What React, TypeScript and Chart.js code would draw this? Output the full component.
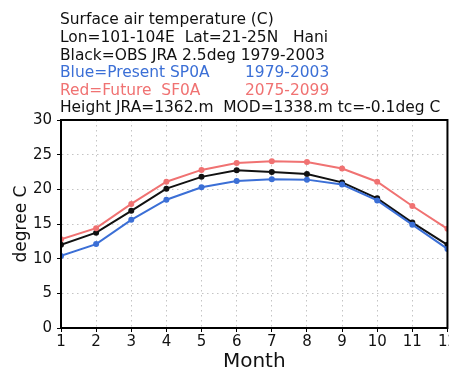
import React, { useEffect, useRef } from "react";
import { Chart, registerables } from "chart.js";

Chart.register(...registerables);

const months = [1, 2, 3, 4, 5, 6, 7, 8, 9, 10, 11, 12];
const obsJRA = [12.0, 13.75, 16.9, 20.1, 21.8, 22.75, 22.5, 22.2, 21.0, 18.7, 15.2, 12.0];
const presentSP0A = [10.4, 12.1, 15.6, 18.5, 20.3, 21.2, 21.45, 21.4, 20.7, 18.4, 14.9, 11.4];
const futureSF0A = [12.8, 14.4, 17.9, 21.1, 22.8, 23.8, 24.05, 23.95, 23.0, 21.1, 17.6, 14.3];
const yTicks = [0, 5, 10, 15, 20, 25, 30];

const titleLines: { parts: { text: string; x: number }[]; color: string }[] = [
  { parts: [{ text: "Surface air temperature (C)", x: 0 }], color: "#111" },
  { parts: [{ text: "Lon=101-104E  Lat=21-25N   Hani", x: 0 }], color: "#111" },
  { parts: [{ text: "Black=OBS JRA 2.5deg 1979-2003", x: 0 }], color: "#111" },
  { parts: [{ text: "Blue=Present SP0A", x: 0 }, { text: "1979-2003", x: 185 }], color: "#3b6fd6" },
  { parts: [{ text: "Red=Future  SF0A", x: 0 }, { text: "2075-2099", x: 185 }], color: "#f07272" },
  { parts: [{ text: "Height JRA=1362.m  MOD=1338.m tc=-0.1deg C", x: 0 }], color: "#111" },
];

const FONT = "'DejaVu Sans', sans-serif";

const framePlugin = {
  id: "frameAndTitle",
  afterDraw(chart: any) {
    const { ctx, chartArea } = chart;
    ctx.save();
    ctx.strokeStyle = "#000";
    ctx.lineWidth = 2;
    ctx.setLineDash([]);
    ctx.strokeRect(chartArea.left, chartArea.top, chartArea.right - chartArea.left, chartArea.bottom - chartArea.top);
    ctx.font = `15px ${FONT}`;
    ctx.textBaseline = "middle";
    ctx.textAlign = "left";
    const sx = 1.03;
    titleLines.forEach((ln, i) => {
      ctx.fillStyle = ln.color;
      ln.parts.forEach((p) => {
        ctx.save();
        ctx.translate(60 + p.x, 20.5 + i * 17.6);
        ctx.scale(sx, 1);
        ctx.fillText(p.text, 0, 0);
        ctx.restore();
      });
    });
    ctx.restore();
  },
};

export default function App() {
  const ref = useRef<HTMLCanvasElement>(null);
  useEffect(() => {
    if (!ref.current) return;
    const mk = (label: string, data: number[], color: string) => ({
      label,
      data: months.map((m, i) => ({ x: m, y: data[i] })),
      borderColor: color,
      backgroundColor: color,
      borderWidth: 2,
      pointRadius: 3,
      pointBorderWidth: 0,
      tension: 0,
    });
    const gridOpts: any = {
      color: "#c4c4c4",
      tickColor: "#000",
      tickLength: 4,
      tickBorderDash: [],
    };
    const chart = new Chart(ref.current, {
      type: "line",
      data: {
        datasets: [
          mk("Future SF0A", futureSF0A, "#f07272"),
          mk("Present SP0A", presentSP0A, "#3b6fd6"),
          mk("OBS JRA", obsJRA, "#111111"),
        ],
      },
      options: {
        animation: false,
        responsive: false,
        layout: { padding: { top: 120, left: 0, right: 0, bottom: 0 } },
        plugins: { legend: { display: false }, tooltip: { enabled: false } },
        scales: {
          x: {
            type: "linear",
            min: 1,
            max: 12,
            afterBuildTicks: (s: any) => {
              s.ticks = months.map((v) => ({ value: v }));
            },
            afterFit: (s: any) => {
              s.height = 46;
            },
            ticks: { color: "#111", font: { family: FONT, size: 15 }, padding: 1, maxRotation: 0 },
            grid: gridOpts,
            border: { display: true, color: "#000", width: 2, dash: [1.5, 3.5] } as any,
            title: { display: true, text: "Month", color: "#111", font: { family: FONT, size: 20 }, padding: 0 },
          },
          y: {
            min: 0,
            max: 30,
            afterBuildTicks: (s: any) => {
              s.ticks = yTicks.map((v) => ({ value: v }));
            },
            afterFit: (s: any) => {
              s.width = 61;
            },
            ticks: { color: "#111", font: { family: FONT, size: 15 }, padding: 5 },
            grid: gridOpts,
            border: { display: true, color: "#000", width: 2, dash: [1.5, 3.5] } as any,
            title: {
              display: true,
              text: "degree C",
              color: "#111",
              font: { family: FONT, size: 17 },
              padding: { top: 11, bottom: 0 },
            },
          },
        },
      },
      plugins: [framePlugin],
    });
    return () => chart.destroy();
  }, []);
  return (
    <div style={{ position: "fixed", left: 0, top: 0, width: 458, height: 374, background: "#fff" }}>
      <canvas ref={ref} width={458} height={374} style={{ width: 458, height: 374 }} />
    </div>
  );
}
